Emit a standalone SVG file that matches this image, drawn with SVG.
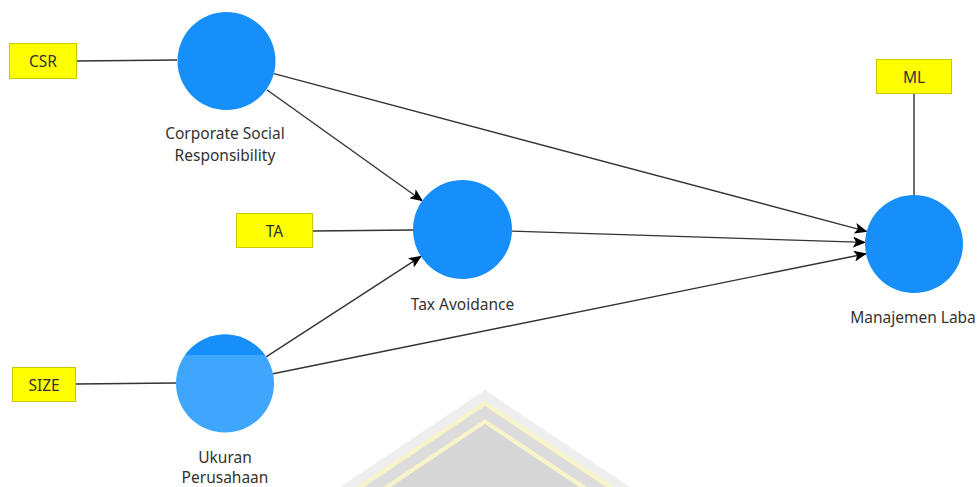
<svg xmlns="http://www.w3.org/2000/svg" width="978" height="487" viewBox="0 0 978 487">
  <defs>
    <marker id="arrow" viewBox="0 0 13 11" refX="12" refY="5.5" markerWidth="13" markerHeight="11" markerUnits="userSpaceOnUse" orient="auto">
      <path d="M0,0 L13,5.5 L0,11 L3,5.5 z" fill="#000"/>
    </marker>
    <style>
      .lv { fill: #168ffa; }
      .lv-light { fill: #3fa6fd; }
      .ind rect { fill: #ffff00; stroke: #c9c900; stroke-width: 1; }
      .ind text { font-family: "Noto Sans", "Open Sans", sans-serif; font-size: 15.5px; fill: #333; text-anchor: middle; dominant-baseline: central; }
      .label { font-family: "Noto Sans", "Open Sans", sans-serif; font-size: 15.5px; fill: #333; text-anchor: middle; }
      .edge { stroke: #333; stroke-width: 1.4; fill: none; }
      .edge.path { marker-end: url(#arrow); }
    </style>
  </defs>
  <rect width="978" height="487" fill="#fff"/>

  <!-- faint emblem in the background -->
  <g id="emblem">
    <polygon points="485,390 630,487 340,487" fill="#eeeeee"/>
    <polygon points="485,401 614,487 356,487" fill="#f7f4c9"/>
    <polygon points="485,406 606,487 364,487" fill="#dcdcdc"/>
    <polygon points="485,419 587,487 383,487" fill="#f7f4c9"/>
    <polygon points="485,424 579,487 391,487" fill="#d6d6d6"/>
  </g>

  <!-- connectors -->
  <g id="connectors">
    <line class="edge" x1="77" y1="61" x2="177" y2="60"/>
    <line class="edge" x1="313" y1="231" x2="413" y2="230"/>
    <line class="edge" x1="76" y1="384" x2="176" y2="383"/>
    <line class="edge" x1="914" y1="94" x2="914" y2="195"/>
    <line class="edge path" x1="266.8" y1="89.8" x2="422.2" y2="200.7"/>
    <line class="edge path" x1="273.9" y1="73.6" x2="866.6" y2="231.4"/>
    <line class="edge path" x1="512" y1="231.1" x2="865" y2="242.4"/>
    <line class="edge path" x1="266.1" y1="356.8" x2="421" y2="256.4"/>
    <line class="edge path" x1="273" y1="373.8" x2="866" y2="253.7"/>
  </g>

  <!-- latent variables -->
  <g id="csr">
    <circle class="lv" cx="226.5" cy="61" r="49"/>
    <text class="label" x="225" y="139">Corporate Social</text>
    <text class="label" x="225" y="161">Responsibility</text>
  </g>
  <g id="tax-avoidance">
    <circle class="lv" cx="462.5" cy="229.5" r="49.5"/>
    <text class="label" x="462.5" y="310">Tax Avoidance</text>
  </g>
  <g id="ukuran-perusahaan">
    <clipPath id="ukClip"><circle cx="225" cy="383.5" r="49"/></clipPath>
    <circle class="lv-light" cx="225" cy="383.5" r="49"/>
    <rect class="lv" x="170" y="330" width="110" height="25" clip-path="url(#ukClip)"/>
    <text class="label" x="225" y="463">Ukuran</text>
    <text class="label" x="225" y="483">Perusahaan</text>
  </g>
  <g id="manajemen-laba">
    <circle class="lv" cx="914" cy="244" r="49"/>
    <text class="label" x="913" y="323">Manajemen Laba</text>
  </g>

  <!-- indicators -->
  <g id="ind-csr" class="ind">
    <rect x="9.5" y="43.5" width="67" height="35"/>
    <text x="43" y="61">CSR</text>
  </g>
  <g id="ind-ta" class="ind">
    <rect x="236.5" y="213.5" width="76" height="34"/>
    <text x="274.5" y="230.5">TA</text>
  </g>
  <g id="ind-size" class="ind">
    <rect x="12.5" y="367.5" width="63" height="34"/>
    <text x="44" y="384.5">SIZE</text>
  </g>
  <g id="ind-ml" class="ind">
    <rect x="876.5" y="59.5" width="75" height="34"/>
    <text x="914" y="76.5">ML</text>
  </g>
</svg>
